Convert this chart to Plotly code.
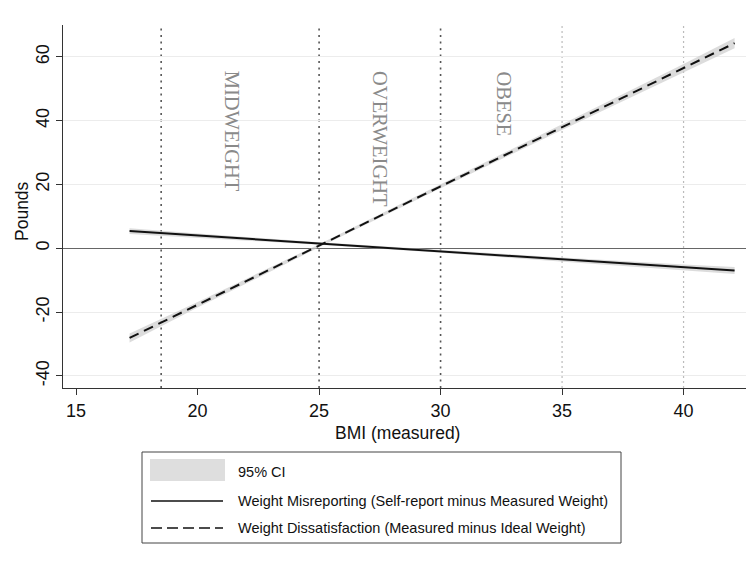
import plotly.graph_objects as go

# ---- data ----
bmi = [17.2, 20, 25, 30, 35, 40, 42.1]
misreport = [5.4, 4.0, 1.5, -1.0, -3.5, -6.0, -7.0]
misreport_lo = [4.5, 3.4, 1.1, -1.4, -4.1, -6.9, -8.1]
misreport_hi = [6.3, 4.6, 1.9, -0.6, -2.9, -5.1, -5.9]
dissatisfaction = [-28.1, -17.7, 0.8, 19.4, 38.0, 56.5, 64.3]
dissatisfaction_lo = [-29.5, -18.6, 0.3, 18.8, 37.1, 55.2, 62.7]
dissatisfaction_hi = [-26.7, -16.8, 1.3, 20.0, 38.9, 57.8, 65.9]

category_lines = [18.5, 25, 30]
light_lines = [35, 40]
category_labels = ["MIDWEIGHT", "OVERWEIGHT", "OBESE"]
category_label_x = [21.45, 27.5, 32.57]
category_label_y = [36.6, 34.3, 45.4]

x_ticks = [15, 20, 25, 30, 35, 40]
x_tick_text = ["15", "20", "25", "30", "35", "40"]
y_ticks = [-40, -20, 0, 20, 40, 60]
y_tick_text = ["-40", "-20", "0", "20", "40", "60"]

legend_labels = ["95% CI",
                 "Weight Misreporting (Self-report minus Measured Weight)",
                 "Weight Dissatisfaction (Measured minus Ideal Weight)"]

# ---- layout geometry (page pixels; the page body has an 8px margin) ----
W, H = 755, 571
OFF = 8
L, R, T, B = 63, 746, 25, 388
FONT = "Liberation Sans, Arial, sans-serif"


def px(x):
    return (x - L) / (R - L)


def py(y):
    return (B - y) / (B - T)


fig = go.Figure()

CI_FILL = "rgba(205,205,205,0.7)"
for lo, hi in [(misreport_lo, misreport_hi), (dissatisfaction_lo, dissatisfaction_hi)]:
    fig.add_trace(go.Scatter(x=bmi + bmi[::-1], y=hi + lo[::-1], fill="toself",
                             fillcolor=CI_FILL, line=dict(width=0), mode="lines",
                             hoverinfo="skip", showlegend=False))

fig.add_trace(go.Scatter(x=bmi, y=misreport, mode="lines",
                         line=dict(color="#111111", width=2), showlegend=False))
fig.add_trace(go.Scatter(x=bmi, y=dissatisfaction, mode="lines",
                         line=dict(color="#111111", width=2, dash="10px,6px"), showlegend=False))

shapes = []
for xv in category_lines:
    shapes.append(dict(type="line", xref="x", yref="paper", x0=xv, x1=xv, y0=0, y1=1,
                       line=dict(color="#555555", width=1.6, dash="2px,4.5px"), layer="below"))
for xv in light_lines:
    shapes.append(dict(type="line", xref="x", yref="paper", x0=xv, x1=xv, y0=0, y1=1,
                       line=dict(color="#bbbbbb", width=1.2, dash="2px,3px"), layer="below"))

# manual legend box
shapes.append(dict(type="rect", xref="paper", yref="paper", x0=px(142), x1=px(621),
                   y0=py(543), y1=py(452), line=dict(color="#444444", width=1),
                   fillcolor="white"))
shapes.append(dict(type="rect", xref="paper", yref="paper", x0=px(150), x1=px(225),
                   y0=py(481), y1=py(459), line=dict(width=0), fillcolor="#dedede"))
shapes.append(dict(type="line", xref="paper", yref="paper", x0=px(151), x1=px(223),
                   y0=py(501), y1=py(501), line=dict(color="#111111", width=1.6)))
shapes.append(dict(type="line", xref="paper", yref="paper", x0=px(151), x1=px(223),
                   y0=py(528), y1=py(528), line=dict(color="#111111", width=1.6, dash="11px,5px")))

annotations = []
for lab, xv, yv in zip(category_labels, category_label_x, category_label_y):
    annotations.append(dict(text=lab, x=xv, y=yv, xref="x", yref="y", showarrow=False,
                            textangle=90, xanchor="center", yanchor="middle",
                            font=dict(family="Liberation Serif, Times New Roman, serif",
                                      size=20.5, color="#8a8a8a")))
for lab, yy in zip(legend_labels, [472, 501, 528]):
    annotations.append(dict(text=lab, x=px(236), y=py(yy), xref="paper", yref="paper",
                            showarrow=False, xanchor="left", yanchor="middle",
                            font=dict(family=FONT, size=14.5, color="#111111")))
# axis titles
annotations.append(dict(text="BMI (measured)", x=px(397), y=py(433), xref="paper", yref="paper",
                        showarrow=False, xanchor="center", yanchor="middle",
                        font=dict(family=FONT, size=17.5, color="#111111")))
annotations.append(dict(text="Pounds", x=px(22), y=py(211), xref="paper", yref="paper",
                        showarrow=False, xanchor="center", yanchor="middle", textangle=-90,
                        font=dict(family=FONT, size=17.5, color="#111111")))

fig.update_layout(
    width=W - OFF, height=H - OFF,
    margin=dict(l=L - OFF, r=W - R, t=T - OFF, b=H - B, pad=0, autoexpand=False),
    paper_bgcolor="white", plot_bgcolor="white",
    shapes=shapes, annotations=annotations,
    font=dict(family=FONT, color="#111111"),
    xaxis=dict(range=[14.46, 42.57], tickvals=x_ticks, ticktext=x_tick_text,
               ticks="outside", ticklen=6, automargin=False,
               tickwidth=1.2, tickcolor="#333333", showline=True, linecolor="#333333",
               linewidth=1.3, showgrid=False, zeroline=False,
               tickfont=dict(size=18, family=FONT)),
    yaxis=dict(range=[-43.8, 70], tickvals=y_ticks, ticktext=y_tick_text,
               ticks="outside", ticklen=6, automargin=False,
               tickwidth=1.2, tickcolor="#333333", showline=True, linecolor="#333333",
               linewidth=1.3, showgrid=True, gridcolor="#ececec", gridwidth=1,
               zeroline=True, zerolinecolor="#666666", zerolinewidth=1.3,
               tickangle=-90, tickfont=dict(size=18, family=FONT)),
)

fig.write_html("out.html")
